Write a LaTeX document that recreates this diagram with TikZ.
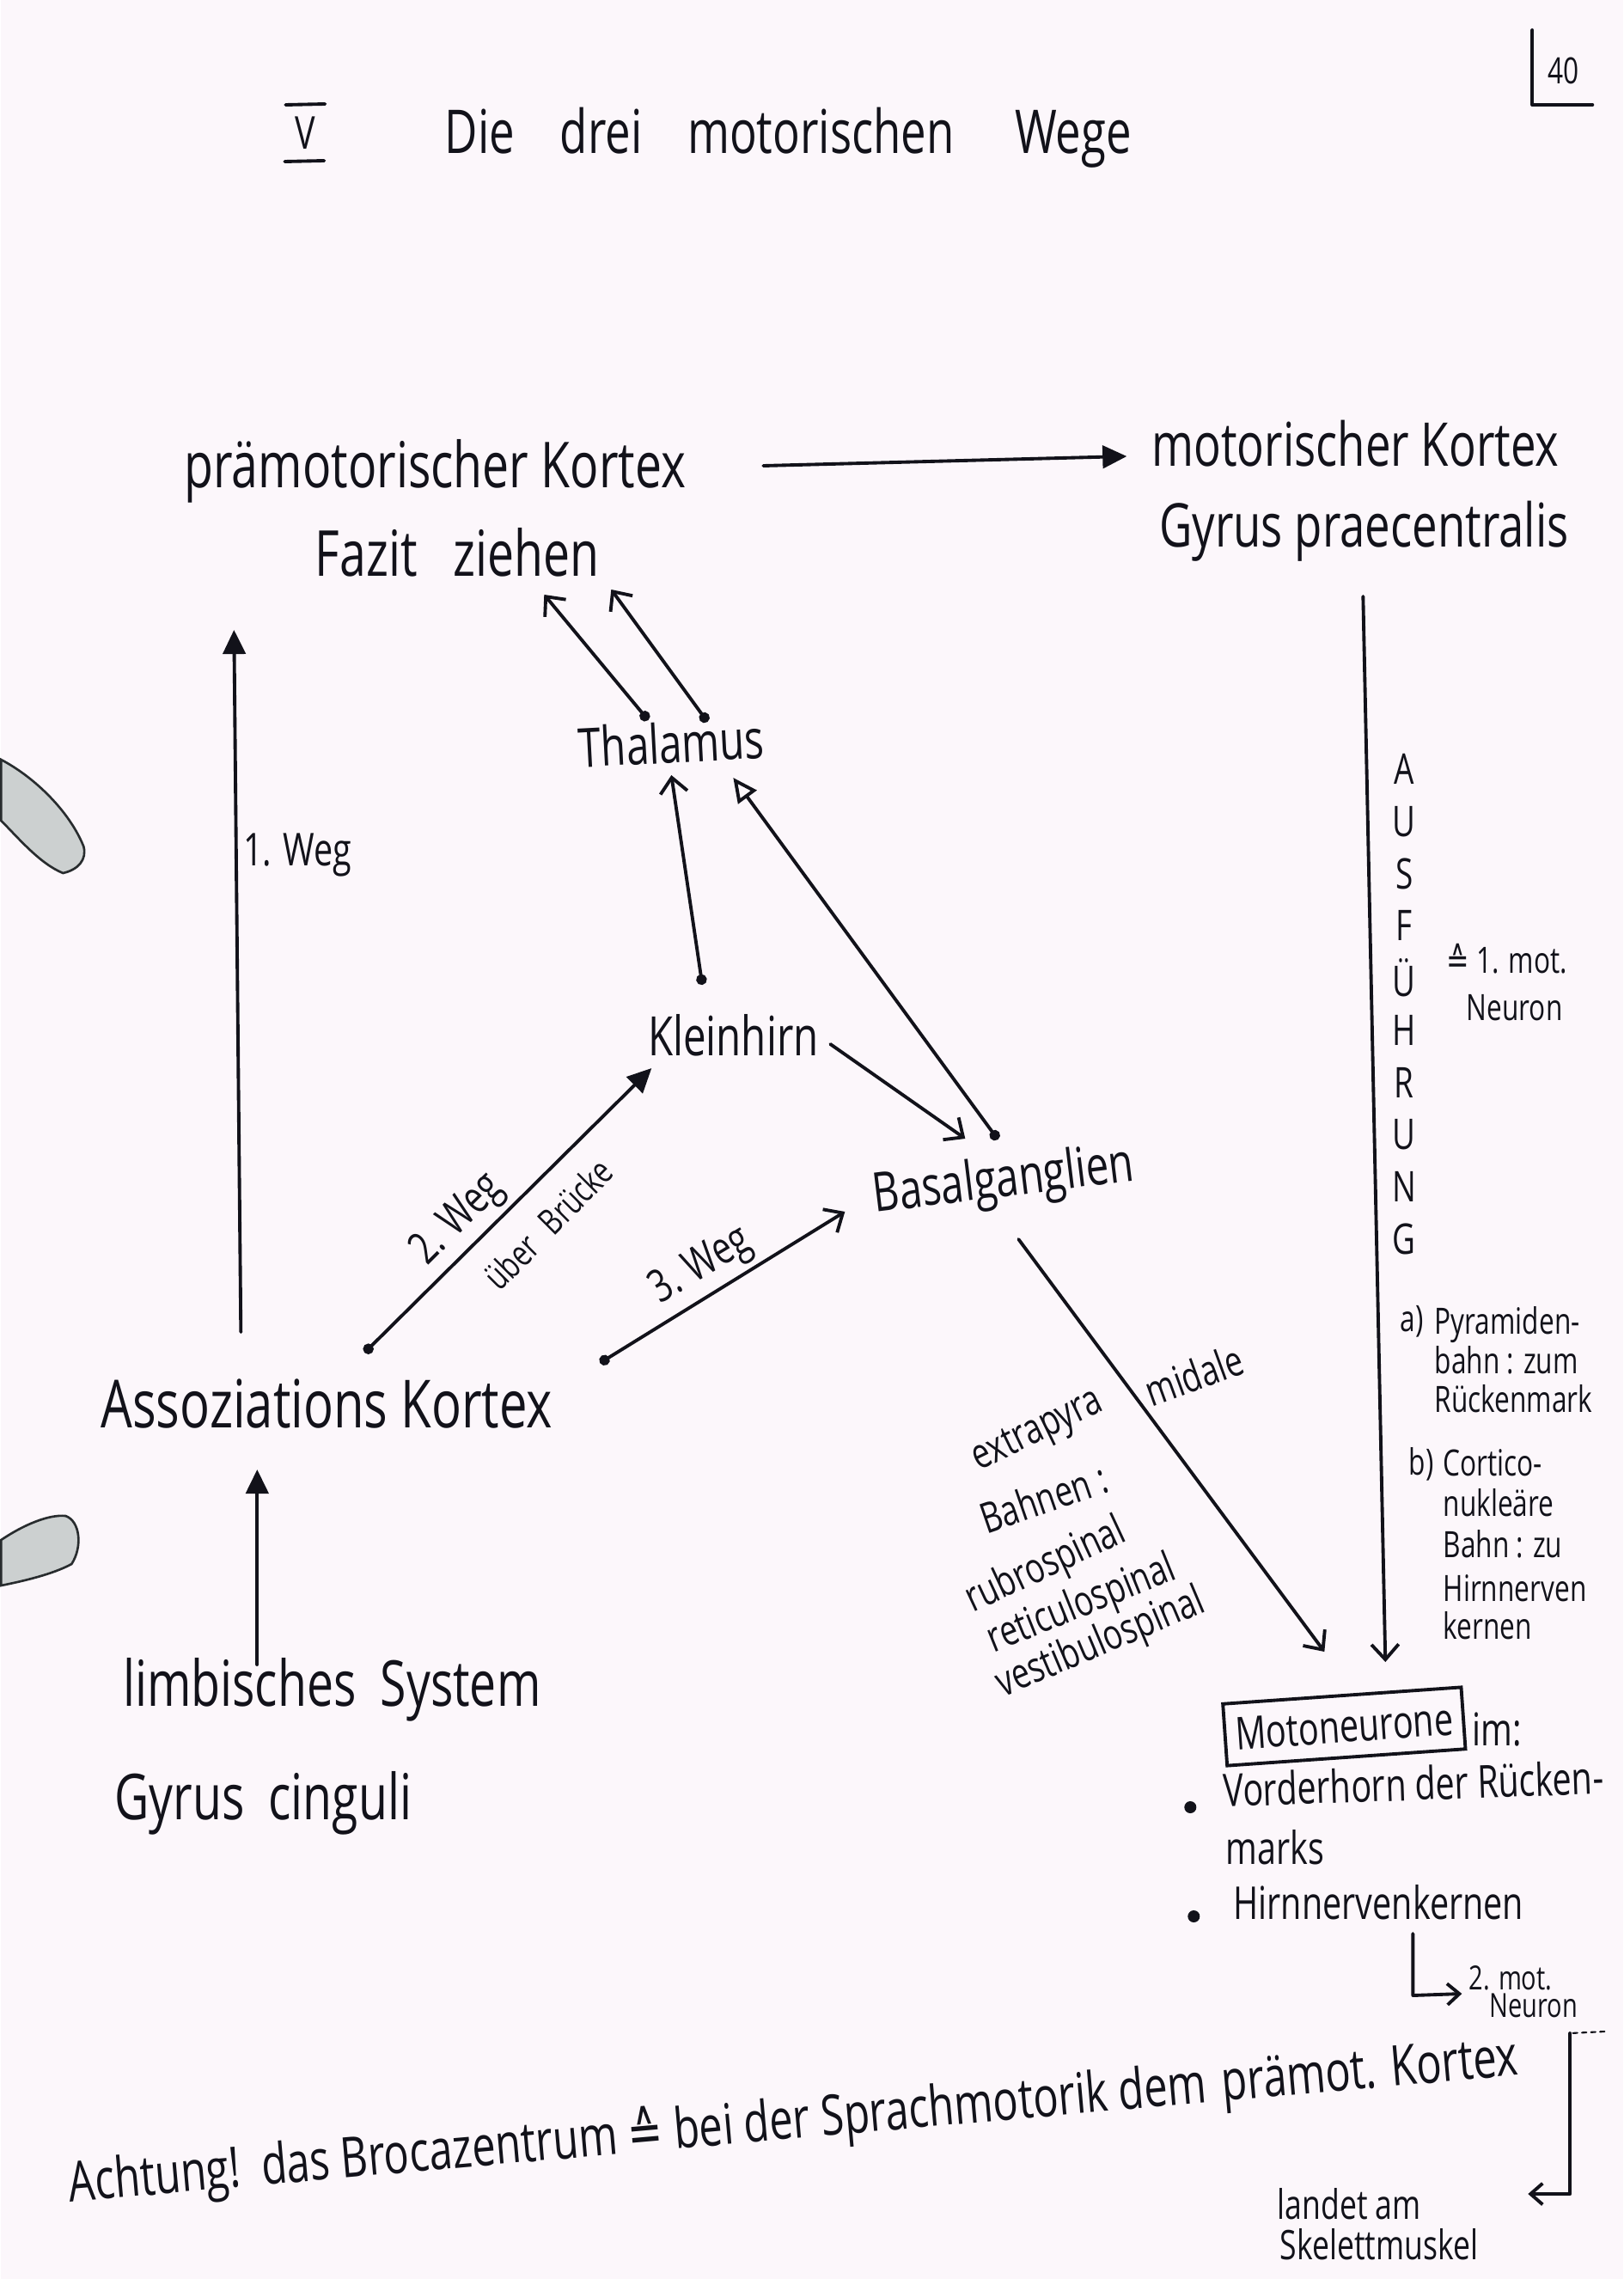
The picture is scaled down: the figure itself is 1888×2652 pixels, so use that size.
\documentclass[tikz,border=0pt]{standalone}
\usepackage{fontspec}
\setmainfont{Open Sans}[FakeStretch=0.75]
\newfontfamily\symf{DejaVu Sans}[FakeStretch=0.75]
\usetikzlibrary{arrows.meta,calc}
\definecolor{paper}{RGB}{252,247,251}
\definecolor{ink}{RGB}{18,18,26}
\definecolor{ringfill}{RGB}{204,208,208}
\definecolor{ringedge}{RGB}{40,44,46}
\begin{document}
\begin{tikzpicture}[x=0.02cm,y=-0.02cm,
  every node/.style={inner sep=0pt, text=ink},
  big/.style={font=\fontsize{42}{48}\selectfont},
  mid/.style={font=\fontsize{36}{42}\selectfont},
  lbl/.style={font=\fontsize{30}{36}\selectfont},
  sml/.style={font=\fontsize{28}{32}\selectfont},
  note/.style={font=\fontsize{24}{25}\selectfont},
  pen/.style={draw=ink, line width=2.2pt, line cap=round, line join=round},
  barb/.style={pen, -{Straight Barb[length=10pt,width=18pt]}},
  dbarb/.style={pen, {Circle[length=7pt]}-{Straight Barb[length=10pt,width=18pt]}},
  tri/.style={pen, -{Triangle[length=16pt,width=15pt]}},
  dtri/.style={pen, {Circle[length=7pt]}-{Triangle[length=16pt,width=15pt]}},
  dhollow/.style={pen, {Circle[length=7pt]}-{Triangle[open,length=16pt,width=15pt]}},
]
% paper
\path[fill=paper] (0,0) rectangle (1888,2652);

% binder rings at the left edge
\path[fill=ringfill, draw=ringedge, line width=1.5pt]
  (0,884) .. controls (40,905) and (80,945) .. (96,985)
  .. controls (100,1000) and (90,1012) .. (72,1016)
  .. controls (45,1005) and (20,975) .. (0,955) -- cycle;
\path[fill=ringfill, draw=ringedge, line width=1.5pt]
  (0,1792) .. controls (25,1775) and (55,1762) .. (75,1764)
  .. controls (92,1770) and (95,1800) .. (82,1820)
  .. controls (60,1832) and (25,1840) .. (0,1845) -- cycle;

% heading
\node[lbl] (num) at (354,155) {V};
\draw[pen] (331,122) -- (377,121);
\draw[pen] (330,188) -- (376,187);
\node[big, anchor=west, font=\fontsize{40}{46}\selectfont] (title) at (516,160)
  {Die\hspace{30pt}drei\hspace{30pt}motorischen\hspace{40pt}Wege};
\node[note] (page) at (1818,82) {40};
\draw[pen] (1782,35) -- (1782,122) -- (1852,122);

% cortical areas
\node[big] (pre)   at (505,548) {prämotorischer Kortex};
\node[big] (fazit) at (531,643) {Fazit\hspace{24pt}ziehen};
\node[big, font=\fontsize{40}{46}\selectfont] (mot) at (1576,516) {motorischer Kortex};
\node[big, font=\fontsize{40}{46}\selectfont] (gpc) at (1586,618) {Gyrus praecentralis};
\node[big, font=\fontsize{44}{50}\selectfont] (asso) at (379,1633) {Assoziations Kortex};
\node[big] (limb)  at (385,1966) {limbisches\hspace{16pt}System};
\node[big] (cing)  at (305,2098) {Gyrus\hspace{16pt}cinguli};

% subcortical stations
\node[mid, rotate=3] (thal)  at (780,864) {Thalamus};
\node[mid] (klein) at (852,1205) {Kleinhirn};
\node[mid, rotate=7] (basal) at (1167,1376) {Basalganglien};

% connector end points
\coordinate (preR)   at (887,542);
\coordinate (motL)   at (1310,531);
\coordinate (fazA)   at (632,692);
\coordinate (fazB)   at (710,686);
\coordinate (thalA)  at (753,838);
\coordinate (thalB)  at (822,840);
\coordinate (thalC)  at (780,902);
\coordinate (thalD)  at (852,905);
\coordinate (kleinT) at (816,1146);
\coordinate (kleinR) at (965,1215);
\coordinate (kleinL) at (757,1243);
\coordinate (basalT) at (1160,1326);
\coordinate (basalL) at (982,1410);
\coordinate (basalI) at (1122,1325);
\coordinate (basalB) at (1184,1442);
\coordinate (assoA)  at (279,1550);
\coordinate (assoB)  at (423,1574);
\coordinate (assoC)  at (697,1586);
\coordinate (assoD)  at (298,1710);
\coordinate (limbT)  at (298,1937);
\coordinate (preB)   at (271,733);
\coordinate (motB)   at (1585,694);
\coordinate (motoT)  at (1611,1934);
\coordinate (motoL)  at (1540,1922);

% pathways
\draw[tri]     (preR) -- (motL);
\draw[dbarb]   (thalA) -- (fazA);
\draw[dbarb]   (thalB) -- (fazB);
\draw[dbarb]   (kleinT) -- (thalC);
\draw[dhollow] (basalT) -- (thalD);
\draw[barb]    (kleinR) -- (basalI);
\draw[dtri]    (assoB) -- (kleinL);
\draw[dbarb]   (assoC) -- (basalL);
\draw[tri]     (assoA) -- (preB);
\draw[tri]     (limbT) -- (assoD);
\draw[barb]    (motB) -- (motoT);
\draw[barb]    (basalB) -- (motoL);

% pathway labels
\node[lbl] (w1) at (345,995) {1. Weg};
\node[lbl, rotate=45] (w2) at (532,1420) {2. Weg};
\node[note, rotate=45] (w2b) at (594,1468) {über};
\node[note, rotate=45] (w2c) at (668,1392) {Brücke};
\node[lbl, rotate=31] (w3) at (815,1474) {3. Weg};

% extrapyramidal tracts
\node[sml, rotate=26] (ex1) at (1207,1667) {extrapyra};
\node[sml, rotate=20] (ex2) at (1388,1600) {midale};
\node[sml, rotate=19] (ex3) at (1213,1743) {Bahnen :};
\node[sml, rotate=25] (ex4) at (1216,1823) {rubrospinal};
\node[sml, rotate=22] (ex5) at (1258,1868) {reticulospinal};
\node[sml, rotate=23] (ex6) at (1280,1913) {vestibulospinal};

% execution column
\foreach \ch [count=\i] in {A,U,S,F,Ü,H,R,U,N,G}
  \node[font=\fontsize{28}{30}\selectfont] (aus\i) at (1633,{895+(\i-1)*60.8}) {\ch};
\node[note, anchor=west] (mot1) at (1682,1116) {{\symf ≙} 1. mot.};
\node[note, anchor=west] (neur1) at (1705,1173) {Neuron};
\node[note, anchor=west] (pa) at (1628,1538) {a)};
\node[note, anchor=north west, align=left] (pyr) at (1668,1520)
  {Pyramiden-\\[1pt]bahn : zum\\[1pt]Rückenmark};
\node[note, anchor=west] (pb) at (1638,1704) {b)};
\node[note, anchor=north west, align=left] (cort) at (1678,1686)
  {Cortico-\\[2pt]nukleäre\\[2pt]Bahn : zu\\[4pt]Hirnnerven\\[0pt]kernen};

% motoneurons
\node[lbl, draw=ink, line width=2.2pt, rotate=4, minimum width=278*0.02cm,
      minimum height=72*0.02cm] (moto) at (1563,2009) {Motoneurone};
\node[lbl, anchor=west] (im) at (1712,2013) {im:};
\fill[ink] (1384,2103) circle (7);
\node[lbl, anchor=west, rotate=2] (vh) at (1422,2083) {Vorderhorn der Rücken-};
\node[lbl, anchor=west] (marks) at (1425,2150) {marks};
\fill[ink] (1388,2230) circle (7);
\node[lbl, anchor=west] (hnk) at (1434,2214) {Hirnnervenkernen};

\coordinate (Ltop) at (1643,2250);
\coordinate (Lcorner) at (1643,2322);
\coordinate (Lend) at (1700,2320);
\draw[pen, -{Straight Barb[length=8pt,width=14pt]}] (Ltop) -- (Lcorner) -- (Lend);
\node[font=\fontsize{22}{24}\selectfont, anchor=west] (mot2) at (1708,2302) {2. mot.};
\node[font=\fontsize{22}{24}\selectfont, anchor=west] (neur2) at (1732,2334) {Neuron};

% remark on Broca's area
\node[mid, rotate=5, font=\fontsize{37}{42}\selectfont] (broca) at (922,2470)
  {Achtung!\hspace{14pt}das Brocazentrum {\symf ≙} bei der Sprachmotorik dem\hspace{10pt}prämot. Kortex};
\coordinate (brTop) at (1826,2366);
\coordinate (brBot) at (1826,2553);
\coordinate (brArr) at (1777,2553);
\draw[pen, line width=1.2pt, dashed] (1866,2364) -- (brTop);
\draw[pen, -{Straight Barb[length=8pt,width=14pt]}] (brTop) -- (brBot) -- (brArr);
\node[sml, font=\fontsize{27}{32}\selectfont, anchor=west] (landet) at (1485,2565) {landet am};
\node[sml, font=\fontsize{27}{32}\selectfont, anchor=west] (skel) at (1488,2612) {Skelettmuskel};
\end{tikzpicture}
\end{document}
